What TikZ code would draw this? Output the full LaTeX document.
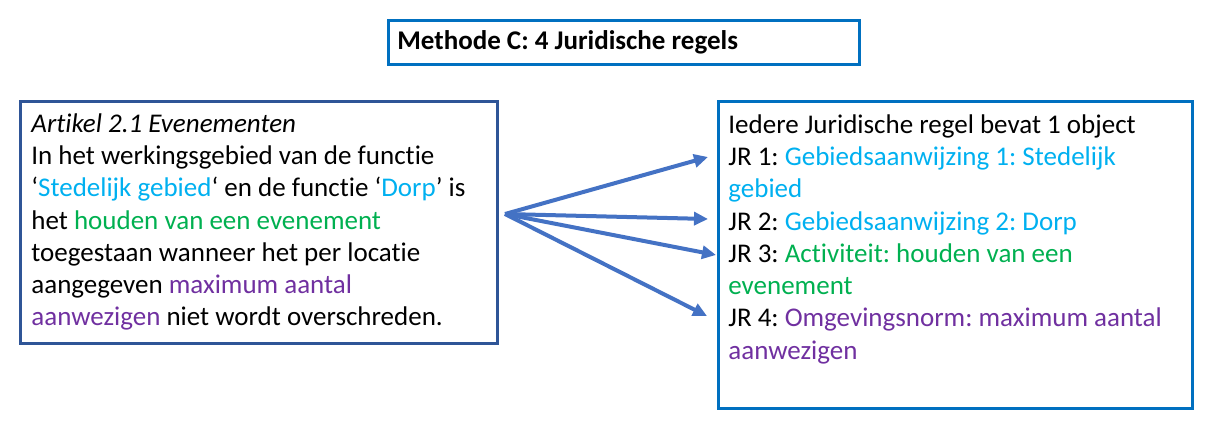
\documentclass[tikz,border=0pt]{standalone}
\usepackage{fontspec}
\setmainfont{Carlito}[Ligatures=NoCommon]
\usetikzlibrary{arrows.meta,positioning}
\definecolor{boxblue}{HTML}{0070C0}
\definecolor{artblue}{HTML}{2F5597}
\definecolor{arrowblue}{HTML}{4472C4}
\definecolor{gebcyan}{HTML}{00B0F0}
\definecolor{actgreen}{HTML}{00B050}
\definecolor{normpurple}{HTML}{7030A0}
\frenchspacing

\begin{document}
\begin{tikzpicture}[x=0.5pt, y=-0.5pt,
  kader/.style={draw=boxblue, line width=1.5pt, anchor=north west, inner sep=0pt},
  tekst/.style={anchor=north west, align=left, inner sep=0pt, font=\fontsize{13.5}{16.15}\selectfont},
  pijl/.style={draw=arrowblue, line width=2pt, -{Triangle[length=7pt,width=6.5pt]}}]
\useasboundingbox (0,0) rectangle (1223,439);
\node[kader, minimum width=235.5pt, minimum height=22pt] (titel) at (387,19) {};
\node[tekst, anchor=west, font=\fontsize{13.5}{16}\selectfont\bfseries] (titeltxt) at ([xshift=5pt]titel.west) {Methode C: 4 Juridische regels};
\node[kader, draw=artblue, minimum width=238.5pt, minimum height=121pt] (artikel) at (19,100) {};
\node[tekst] (artikeltxt) at (31,113) {\textit{Artikel 2.1 Evenementen}\\
In het werkingsgebied van de functie\\
‘\textcolor{gebcyan}{Stedelijk gebied}‘ en de functie ‘\textcolor{gebcyan}{Dorp}’ is\\
het \textcolor{actgreen}{houden van een evenement}\\
toegestaan wanneer het per locatie\\
aangegeven \textcolor{normpurple}{maximum aantal}\\
\textcolor{normpurple}{aanwezigen} niet wordt overschreden.};
\node[kader, minimum width=237pt, minimum height=153.5pt] (regels) at (717,100) {};
\node[tekst] (regelstxt) at (728,114) {Iedere Juridische regel bevat 1 object\\
JR 1: \textcolor{gebcyan}{Gebiedsaanwijzing 1: Stedelijk}\\
\textcolor{gebcyan}{gebied}\\
JR 2: \textcolor{gebcyan}{Gebiedsaanwijzing 2: Dorp}\\
JR 3: \textcolor{actgreen}{Activiteit: houden van een}\\
\textcolor{actgreen}{evenement}\\
JR 4: \textcolor{normpurple}{Omgevingsnorm: maximum aantal}\\
\textcolor{normpurple}{aanwezigen}};
\coordinate (bron) at (505,214);
\coordinate (jr1) at (708,157);
\coordinate (jr2) at (708,219);
\coordinate (jr3) at (716,255);
\coordinate (jr4) at (707,316);
\foreach \doel in {jr1,jr2,jr3,jr4}
  \draw[pijl] (bron) -- (\doel);
\end{tikzpicture}
\end{document}
